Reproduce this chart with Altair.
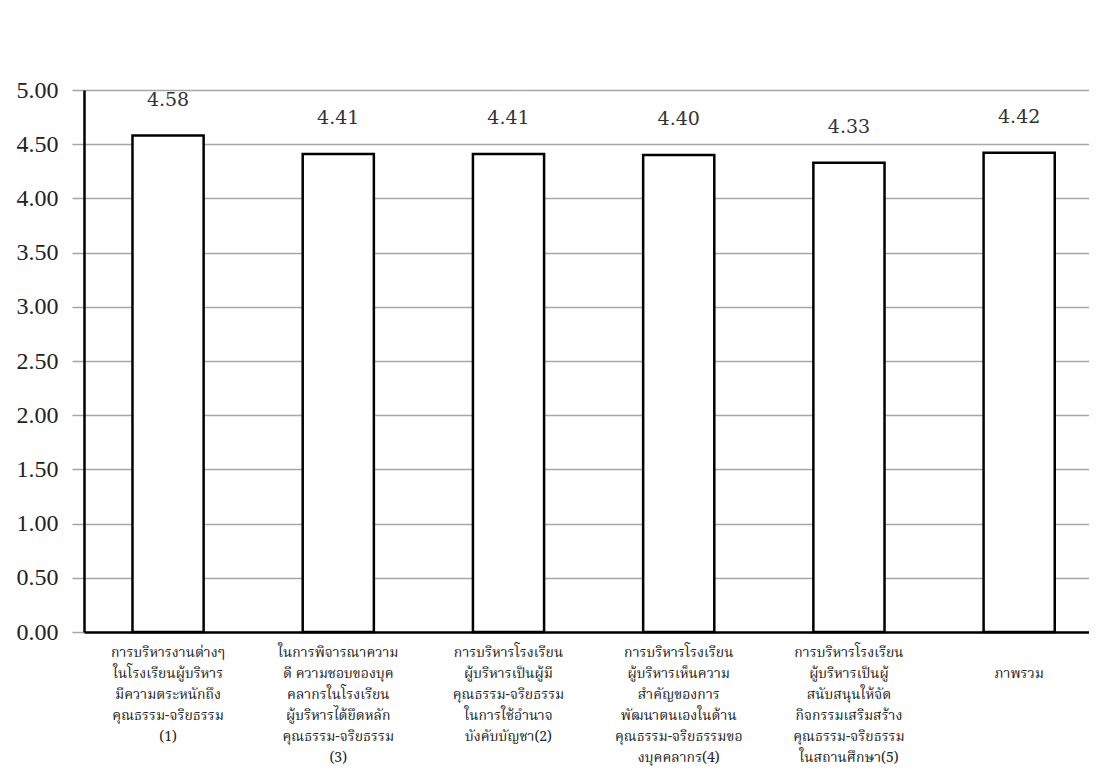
import altair as alt
import pandas as pd

categories = [
    "การบริหารงานต่างๆ|ในโรงเรียนผู้บริหาร|มีความตระหนักถึง|คุณธรรม-จริยธรรม|(1)",
    "ในการพิจารณาความ|ดี ความชอบของบุค|คลากรในโรงเรียน|ผู้บริหารได้ยึดหลัก|คุณธรรม-จริยธรรม|(3)",
    "การบริหารโรงเรียน|ผู้บริหารเป็นผู้มี|คุณธรรม-จริยธรรม|ในการใช้อำนาจ|บังคับบัญชา(2)",
    "การบริหารโรงเรียน|ผู้บริหารเห็นความ|สำคัญของการ|พัฒนาตนเองในด้าน|คุณธรรม-จริยธรรมขอ|งบุคคลากร(4)",
    "การบริหารโรงเรียน|ผู้บริหารเป็นผู้|สนับสนุนให้จัด|กิจกรรมเสริมสร้าง|คุณธรรม-จริยธรรม|ในสถานศึกษา(5)",
    " | | |ภาพรวม",
]
values = [4.58, 4.41, 4.41, 4.40, 4.33, 4.42]
value_labels = ["4.58", "4.41", "4.41", "4.40", "4.33", "4.42"]
y_ticks = [0.0, 0.5, 1.0, 1.5, 2.0, 2.5, 3.0, 3.5, 4.0, 4.5, 5.0]

df = pd.DataFrame({"cat": categories, "value": values, "label": value_labels})

x_scale = alt.Scale(paddingInner=0.582, paddingOuter=0.243, align=0.586)
x_axis = alt.Axis(
    title=None, labelAngle=0, labelExpr="split(datum.value, '|')",
    labelFont="Noto Serif Thai, Noto Sans Thai, Liberation Serif, serif",
    labelFontSize=14, labelLineHeight=21, labelPadding=13, ticks=False,
    domainColor="black", domainWidth=2.5, labelLimit=300, labelOverlap=False,
    labelBaseline="top", labelColor="#222",
)
y_axis = alt.Axis(
    title=None, values=y_ticks, format=".2f", grid=True,
    gridColor="#a6a6a6", gridWidth=1.5, tickColor="#a6a6a6", tickSize=12,
    tickWidth=1.5, domainColor="black", domainWidth=2.5,
    labelFont="Liberation Serif", labelFontSize=24, labelColor="#222",
    labelPadding=14, minExtent=76, maxExtent=76,
)

x_enc = alt.X("cat:N", sort=None, scale=x_scale, axis=x_axis)
y_enc = alt.Y("value:Q", scale=alt.Scale(domain=[0, 5], nice=False), axis=y_axis)

bars = alt.Chart(df).mark_bar(fill="white", stroke="black", strokeWidth=2.5).encode(
    x=x_enc, y=y_enc
)
text = alt.Chart(df).mark_text(
    font="DejaVu Serif", fontSize=19, color="#333", dy=-36, baseline="middle"
).encode(x=alt.X("cat:N", sort=None), y=alt.Y("value:Q"), text="label:N")

chart = (bars + text).properties(
    width=1005, height=542,
    padding={"top": 70, "left": 0, "right": 0, "bottom": 4},
).configure_view(stroke=None)

chart.save("out.html", embed_options={"renderer": "svg", "actions": False})
